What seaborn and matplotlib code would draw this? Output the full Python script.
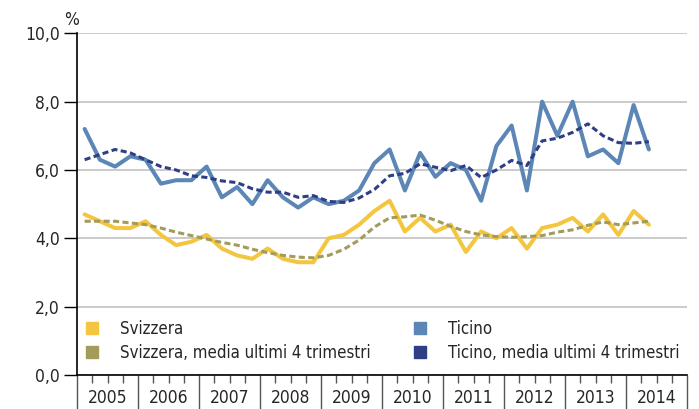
import matplotlib
matplotlib.use("Agg")
import matplotlib.pyplot as plt
import matplotlib.transforms as mtransforms
from matplotlib import font_manager
from matplotlib.lines import Line2D
import pandas as pd
import seaborn as sns

# quarterly unemployment rate, 2005 Q1 .. 2014 Q2
years = list(range(2005, 2015))
svizzera = [4.7, 4.5, 4.3, 4.3, 4.5, 4.1, 3.8, 3.9, 4.1, 3.7,
            3.5, 3.4, 3.7, 3.4, 3.3, 3.3, 4.0, 4.1, 4.4, 4.8,
            5.1, 4.2, 4.6, 4.2, 4.4, 3.6, 4.2, 4.0, 4.3, 3.7,
            4.3, 4.4, 4.6, 4.2, 4.7, 4.1, 4.8, 4.4]
svizzera_ma = [4.5, 4.5, 4.5, 4.45, 4.4, 4.3, 4.18, 4.08, 3.98, 3.88,
               3.8, 3.68, 3.58, 3.5, 3.45, 3.43, 3.5, 3.68, 3.95, 4.33,
               4.6, 4.63, 4.68, 4.53, 4.35, 4.2, 4.1, 4.05, 4.03, 4.05,
               4.08, 4.18, 4.25, 4.38, 4.48, 4.4, 4.45, 4.5]
ticino = [7.2, 6.3, 6.1, 6.4, 6.3, 5.6, 5.7, 5.7, 6.1, 5.2,
          5.5, 5.0, 5.7, 5.2, 4.9, 5.2, 5.0, 5.1, 5.4, 6.2,
          6.6, 5.4, 6.5, 5.8, 6.2, 6.0, 5.1, 6.7, 7.3, 5.4,
          8.0, 7.0, 8.0, 6.4, 6.6, 6.2, 7.9, 6.6]
ticino_ma = [6.3, 6.45, 6.6, 6.5, 6.3, 6.1, 6.0, 5.83, 5.78, 5.68,
             5.63, 5.45, 5.35, 5.35, 5.2, 5.25, 5.08, 5.05, 5.18, 5.43,
             5.83, 5.9, 6.18, 6.08, 5.98, 6.13, 5.78, 6.0, 6.28, 6.13,
             6.85, 6.93, 7.1, 7.35, 7.0, 6.8, 6.78, 6.83]

labels = ["Svizzera", "Svizzera, media ultimi 4 trimestri",
          "Ticino", "Ticino, media ultimi 4 trimestri"]
colors = ["#F4C63F", "#A39B5A", "#5B86B6", "#2F3E85"]

# quarter centres on a fractional-year axis
x = [y + (q - 0.5) / 4 for y in years for q in range(1, 5)][:len(ticino)]
df = pd.DataFrame({"x": x, "svizzera": svizzera, "svizzera_ma": svizzera_ma,
                   "ticino": ticino, "ticino_ma": ticino_ma})

sns.set_theme(style="white")
names = {f.name for f in font_manager.fontManager.ttflist}
if "Liberation Sans Narrow" in names:
    plt.rcParams["font.family"] = ["Liberation Sans Narrow", "DejaVu Sans"]
else:
    plt.rcParams["font.family"] = ["DejaVu Sans"]
    plt.rcParams["font.stretch"] = "condensed"
FS = 12.5

fig = plt.figure(figsize=(6.99, 4.09), dpi=100)
ax = fig.add_axes([77 / 699, 1 - 375 / 409, 610 / 699, (375 - 33.3) / 409])

dash = (0, (2.0, 1.1))
sns.lineplot(data=df, x="x", y="svizzera", ax=ax, color=colors[0], lw=2.9)
sns.lineplot(data=df, x="x", y="svizzera_ma", ax=ax, color=colors[1], lw=2.2, linestyle=dash)
sns.lineplot(data=df, x="x", y="ticino", ax=ax, color=colors[2], lw=2.9)
sns.lineplot(data=df, x="x", y="ticino_ma", ax=ax, color=colors[3], lw=2.2, linestyle=dash)

ax.set_xlim(2005, 2015)
ax.set_ylim(0, 10)
ax.set_xlabel("")
ax.set_ylabel("")

# y axis
ax.set_yticks([0, 2, 4, 6, 8, 10])
ax.set_yticklabels([f"{v:.1f}".replace(".", ",") for v in [0, 2, 4, 6, 8, 10]], fontsize=FS)
ax.yaxis.grid(True, color="#BDBDBD", lw=1.1)
ax.set_axisbelow(True)
ax.tick_params(axis="y", length=9.5, width=1, color="black", pad=3, left=True)
ax.annotate("%", xy=(0, 1), xycoords="axes fraction", xytext=(-4, 3),
            textcoords="offset points", ha="center", va="bottom", fontsize=FS)

# x axis: year separators, quarter ticks, year labels
ax.set_xticks(list(range(2005, 2016)))
ax.set_xticklabels([])
ax.set_xticks([y + q / 4 for y in years for q in (1, 2, 3)], minor=True)
ax.tick_params(axis="x", which="major", length=25, width=1, color="#555555", bottom=True)
ax.tick_params(axis="x", which="minor", length=6, width=1, color="#555555", bottom=True)
trans = mtransforms.blended_transform_factory(ax.transData, ax.transAxes)
for y in years:
    ax.text(y + 0.5, -0.094, str(y), transform=trans, ha="center", va="bottom", fontsize=FS)

for side in ("top", "right"):
    ax.spines[side].set_visible(False)
for side in ("left", "bottom"):
    ax.spines[side].set_color("black")
    ax.spines[side].set_linewidth(1.2)

handles = [Line2D([], [], marker="s", ls="none", markersize=8, color=c) for c in colors]
leg_kw = dict(loc="center left", frameon=False, fontsize=12.1, handletextpad=1.18,
              labelspacing=0.4, handlelength=1.0, borderaxespad=0, borderpad=0)
leg1 = ax.legend(handles[:2], labels[:2], bbox_to_anchor=(0.011, 0.0995), **leg_kw)
ax.add_artist(leg1)
ax.legend(handles[2:], labels[2:], bbox_to_anchor=(0.548, 0.0995), **leg_kw)

fig.savefig("out.png", dpi=100)
